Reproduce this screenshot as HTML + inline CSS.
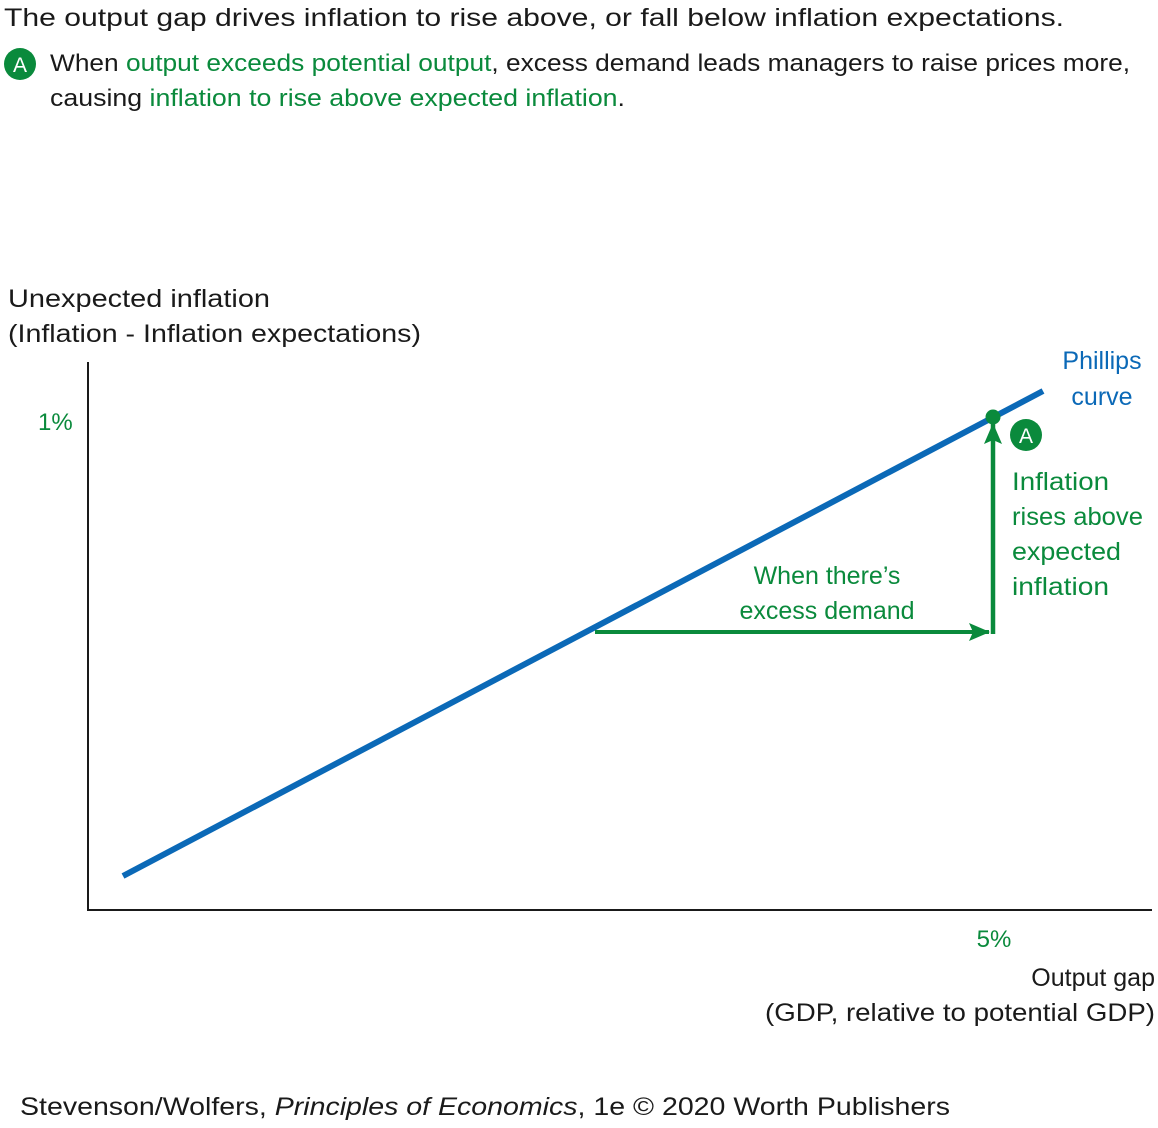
<!DOCTYPE html>
<html><head><meta charset="utf-8"><style>
html,body{margin:0;padding:0;background:#fff;}
svg{display:block;}
text{font-family:"Liberation Sans",sans-serif;}
</style></head><body>
<svg width="1158" height="1128" viewBox="0 0 1158 1128" xmlns="http://www.w3.org/2000/svg">
<defs>
<marker id="ah" markerWidth="22" markerHeight="20" refX="20" refY="10" orient="auto" markerUnits="userSpaceOnUse">
<path d="M0,1 L21,10 L0,19 L4,10 z" fill="#0a8a3c"/>
</marker>
</defs>
<text x="4" y="26" font-size="25" fill="#1a1a1a" textLength="1060" lengthAdjust="spacingAndGlyphs">The output gap drives inflation to rise above, or fall below inflation expectations.</text>
<circle cx="20" cy="64" r="16" fill="#0a8a3c"/>
<text x="20" y="72" font-size="21" fill="#fff" text-anchor="middle">A</text>
<text x="50" y="71" font-size="24" fill="#1a1a1a" textLength="1080" lengthAdjust="spacingAndGlyphs">When <tspan fill="#0a8a3c">output exceeds potential output</tspan>, excess demand leads managers to raise prices more,</text>
<text x="50" y="106" font-size="24" fill="#1a1a1a" textLength="575" lengthAdjust="spacingAndGlyphs">causing <tspan fill="#0a8a3c">inflation to rise above expected inflation</tspan>.</text>

<text x="8" y="307" font-size="25" fill="#1a1a1a" textLength="262" lengthAdjust="spacingAndGlyphs">Unexpected inflation</text>
<text x="8" y="342" font-size="25" fill="#1a1a1a" textLength="413" lengthAdjust="spacingAndGlyphs">(Inflation - Inflation expectations)</text>
<text x="38" y="430" font-size="24" fill="#0a8a3c">1%</text>

<line x1="88" y1="362" x2="88" y2="911" stroke="#1a1a1a" stroke-width="2"/>
<line x1="87" y1="910" x2="1152" y2="910" stroke="#1a1a1a" stroke-width="2"/>

<line x1="123" y1="876" x2="1043" y2="391" stroke="#0b69b7" stroke-width="6"/>
<text x="1102" y="369" font-size="25" fill="#0b69b7" text-anchor="middle">Phillips</text>
<text x="1102" y="405" font-size="25" fill="#0b69b7" text-anchor="middle">curve</text>

<line x1="595" y1="632" x2="989" y2="632" stroke="#0a8a3c" stroke-width="4" marker-end="url(#ah)"/>
<line x1="993" y1="634" x2="993" y2="424" stroke="#0a8a3c" stroke-width="4.5" marker-end="url(#ah)"/>
<circle cx="993" cy="417" r="7.5" fill="#0a8a3c"/>
<circle cx="1026" cy="435" r="16" fill="#0a8a3c"/>
<text x="1026" y="443" font-size="21" fill="#fff" text-anchor="middle">A</text>

<text x="827" y="584" font-size="25" fill="#0a8a3c" text-anchor="middle">When there’s</text>
<text x="827" y="619" font-size="25" fill="#0a8a3c" text-anchor="middle">excess demand</text>

<text x="1012" y="490" font-size="25" fill="#0a8a3c" textLength="97" lengthAdjust="spacingAndGlyphs">Inflation</text>
<text x="1012" y="525" font-size="25" fill="#0a8a3c" textLength="131" lengthAdjust="spacingAndGlyphs">rises above</text>
<text x="1012" y="560" font-size="25" fill="#0a8a3c" textLength="109" lengthAdjust="spacingAndGlyphs">expected</text>
<text x="1012" y="595" font-size="25" fill="#0a8a3c" textLength="97" lengthAdjust="spacingAndGlyphs">inflation</text>

<text x="994" y="947" font-size="24" fill="#0a8a3c" text-anchor="middle">5%</text>
<text x="1155" y="986" font-size="25" fill="#1a1a1a" text-anchor="end">Output gap</text>
<text x="1155" y="1021" font-size="25" fill="#1a1a1a" text-anchor="end" textLength="390" lengthAdjust="spacingAndGlyphs">(GDP, relative to potential GDP)</text>

<text x="20" y="1115" font-size="25" fill="#1a1a1a" textLength="930" lengthAdjust="spacingAndGlyphs">Stevenson/Wolfers, <tspan font-style="italic">Principles of Economics</tspan>, 1e © 2020 Worth Publishers</text>
</svg>
</body></html>
